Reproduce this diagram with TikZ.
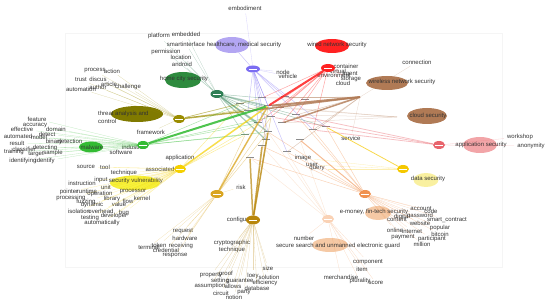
\documentclass[tikz,border=0pt]{standalone}
\usepackage{fontspec}
\setmainfont{Liberation Sans}
\usepackage{xcolor}
\usetikzlibrary{shapes.geometric}

\definecolor{healthc}{HTML}{B3A6F2}
\definecolor{healthhub}{HTML}{7B6CF2}
\definecolor{wiredc}{HTML}{FF2222}
\definecolor{homec}{HTML}{2E8B3E}
\definecolor{homehub}{HTML}{2F7F55}
\definecolor{threatc}{HTML}{807A00}
\definecolor{threathub}{HTML}{9A8C00}
\definecolor{malwarec}{HTML}{33BB33}
\definecolor{vulnc}{HTML}{F7F23C}
\definecolor{vulnhub}{HTML}{F5D000}
\definecolor{riskhub}{HTML}{D9A520}
\definecolor{confhub}{HTML}{B8860B}
\definecolor{brownc}{HTML}{B07A55}
\definecolor{appc}{HTML}{F2A5A8}
\definecolor{apphub}{HTML}{E8646C}
\definecolor{datac}{HTML}{F9F0A0}
\definecolor{datahub}{HTML}{F5C800}
\definecolor{finc}{HTML}{F5C9A5}
\definecolor{finhub}{HTML}{F0914F}
\definecolor{searchhub}{HTML}{FAD2B5}

\begin{document}
\begin{tikzpicture}[x=1pt,y=-1pt,
  word/.style={font=\fontsize{6}{7}\selectfont, text=black!80, inner sep=0pt},
  topic/.style={ellipse, fill=#1, minimum width=30pt, minimum height=14pt, inner sep=0pt},
  hub/.style={ellipse, fill=#1, minimum width=12pt, minimum height=8pt, inner sep=0pt,
    path picture={\draw[white, line width=0.5pt] ([xshift=-4pt]path picture bounding box.center) -- ([xshift=4pt]path picture bounding box.center);}},
  tinyterm/.style={rectangle, fill=black!45, minimum width=8pt, minimum height=1pt, inner sep=0pt},
  fan/.style={draw=#1, line width=0.3pt, opacity=0.3, shorten >=3pt},
  link/.style={draw=#1, line width=0.5pt, opacity=0.4},
  heavy/.style={draw=#1, line width=2pt, opacity=0.85}]
\useasboundingbox (0,0) rectangle (550,305);
\draw[black!4] (65,33) rectangle (502,267);

% topics
\node[topic=healthc, minimum width=34pt, minimum height=16pt] (health) at (232,45) {};
\node[topic=wiredc, minimum width=34pt] (wired) at (332,46) {};
\node[topic=homec, minimum width=36pt, minimum height=16pt] (home) at (183,80) {};
\node[topic=threatc, minimum width=52pt, minimum height=16pt] (threat) at (137,114) {};
\node[topic=malwarec, minimum width=24pt, minimum height=11pt] (malware) at (91,147) {};
\node[topic=vulnc, minimum width=50pt, minimum height=15pt] (vuln) at (135,183) {};
\node[topic=brownc, minimum width=42pt] (wireless) at (387,83) {};
\node[topic=brownc, minimum width=40pt, minimum height=16pt] (cloudsec) at (427,116) {};
\node[topic=appc, minimum width=34pt, minimum height=16pt] (appsec) at (480,145) {};
\node[topic=datac, minimum width=25pt] (datasec) at (426,180) {};
\node[topic=finc, minimum width=26pt] (fintech) at (378,213) {};
\node[topic=finc, minimum width=36pt] (search) at (330,245) {};

% centre terms
\node[tinyterm] (c1) at (262,98) {};
\node[tinyterm] (c2) at (268,106) {};
\node[tinyterm] (c3) at (248,111) {};
\node[tinyterm] (c4) at (271,117) {};
\node[tinyterm] (c5) at (258,123) {};
\node[tinyterm] (c6) at (268,132) {};
\node[tinyterm] (c7) at (282,123) {};
\node[tinyterm] (c8) at (296,115) {};
\node[tinyterm] (c9) at (313,130) {};
\node[tinyterm] (c10) at (326,127) {};
\node[tinyterm] (c11) at (262,146) {};
\node[tinyterm] (c12) at (266,140) {};
\node[tinyterm] (c13) at (287,152) {};
\node[tinyterm] (c14) at (250,158) {};
\node[tinyterm] (c15) at (240,104) {};
\node[tinyterm] (c16) at (285,97) {};
\node[tinyterm] (c17) at (300,140) {};
\node[tinyterm] (c18) at (305,100) {};
\node[tinyterm] (c19) at (245,135) {};
\node[tinyterm] (c20) at (280,108) {};

\coordinate (hwireless) at (360,97);
\coordinate (hcloud) at (397,117);

% words
\node[word] (embodiment) at (245,8) {embodiment};
\node[word] (platform) at (159,36) {platform};
\node[word] (embedded) at (186,34) {embedded};
\node[word] (smartinterface) at (186,44) {smartinterface};
\node[word] (permission) at (166,52) {permission};
\node[word] (location) at (181,57) {location};
\node[word] (android) at (182,64) {android};
\node[word] (node) at (283,72) {node};
\node[word] (vehicle) at (288,76) {vehicle};
\node[word] (container) at (346,66) {container};
\node[word] (virtual) at (338,71) {virtual};
\node[word] (environment) at (334,75) {environment};
\node[word] (agent) at (350,74) {agent};
\node[word] (storage) at (351,79) {storage};
\node[word] (cloud) at (343,83) {cloud};
\node[word] (connection) at (417,62) {connection};
\node[word] (service) at (351,138) {service};
\node[word] (workshop) at (520,137) {workshop};
\node[word] (anonymity) at (531,146) {anonymity};
\node[word] (image) at (303,158) {image};
\node[word] (user) at (312,165) {user};
\node[word] (query) at (317,169) {query};

\node[word] (process) at (95,71) {process};
\node[word] (action) at (112,71) {action};
\node[word] (discus) at (98,79) {discus};
\node[word] (trust) at (81,80) {trust};
\node[word] (automation) at (81,89) {automation};
\node[word] (author) at (98,87) {author};
\node[word] (article) at (109,84) {article};
\node[word] (challenge) at (128,87) {challenge};
\node[word] (framework) at (151,132) {framework};

\node[word] (feature) at (37,119) {feature};
\node[word] (accuracy) at (35,126) {accuracy};
\node[word] (effective) at (22,129) {effective};
\node[word] (domain) at (56,129) {domain};
\node[word] (detect) at (47,134) {detect};
\node[word] (automated) at (18,136) {automated};
\node[word] (model) at (39,137) {model};
\node[word] (result) at (17,143) {result};
\node[word] (binary) at (54,142) {binary};
\node[word] (detection) at (70,141) {detection};
\node[word] (classifier) at (24,149) {classifier};
\node[word] (detecting) at (45,148) {detecting};
\node[word] (training) at (14,152) {training};
\node[word] (target) at (36,154) {target};
\node[word] (sample) at (53,153) {sample};
\node[word] (identifying) at (23,161) {identifying};
\node[word] (identify) at (45,161) {identify};
\node[word] (industrial) at (134,147) {industrial};
\node[word] (software) at (121,152) {software};

\node[word] (application) at (180,158) {application};
\node[word] (associated) at (160,169) {associated};
\node[word] (source) at (86,167) {source};
\node[word] (tool) at (105,167) {tool};
\node[word] (technique) at (124,173) {technique};
\node[word] (instruction) at (82,183) {instruction};
\node[word] (input) at (101,180) {input};
\node[word] (unit) at (106,187) {unit};
\node[word] (pointer) at (69,192) {pointer};
\node[word] (runtime) at (87,191) {runtime};
\node[word] (operation) at (100,194) {operation};
\node[word] (processor) at (133,192) {processor};
\node[word] (processing) at (71,198) {processing};
\node[word] (fuzzing) at (86,202) {fuzzing};
\node[word] (library) at (112,199) {library};
\node[word] (flow) at (128,201) {flow};
\node[word] (kernel) at (142,198) {kernel};
\node[word] (dynamic) at (92,205) {dynamic};
\node[word] (value) at (119,204) {value};
\node[word] (isolation) at (79,211) {isolation};
\node[word] (overhead) at (101,211) {overhead};
\node[word] (bug) at (124,213) {bug};
\node[word] (testing) at (90,218) {testing};
\node[word] (developer) at (114,216) {developer};
\node[word] (automatically) at (102,223) {automatically};

\node[word] (risk) at (241,187) {risk};
\node[word] (request) at (183,231) {request};
\node[word] (hardware) at (185,238) {hardware};
\node[word] (terminal) at (149,247) {terminal};
\node[word] (token) at (159,245) {token};
\node[word] (receiving) at (181,246) {receiving};
\node[word] (credential) at (166,250) {credential};
\node[word] (response) at (175,256) {response};

\node[word] (configured) at (241,220) {configured};
\node[word, align=center] (crypto) at (232,246.5) {cryptographic\\technique};
\node[word] (size) at (268,268) {size};
\node[word] (solution) at (269,277) {solution};
\node[word] (loey) at (253,276) {loey};
\node[word] (property) at (211,275) {property};
\node[word] (proof) at (226,274) {proof};
\node[word] (setting) at (220,281) {setting};
\node[word] (guarantee) at (240,281) {guarantee};
\node[word] (efficiency) at (265,283) {efficiency};
\node[word] (assumption) at (210,286) {assumption};
\node[word] (allows) at (233,286) {allows};
\node[word] (database) at (257,288) {database};
\node[word] (party) at (244,292) {party};
\node[word] (circuit) at (221,293) {circuit};
\node[word] (notion) at (234,297) {notion};

\node[word] (account) at (421,209) {account};
\node[word] (code) at (431,211) {code};
\node[word] (digital) at (402,217) {digital};
\node[word] (password) at (420,216) {password};
\node[word] (content) at (397,220) {content};
\node[word] (website) at (420,223) {website};
\node[word] (smartcontract) at (447,220) {smart\_contract};
\node[word] (online) at (395,230) {online};
\node[word] (internet) at (412,231) {internet};
\node[word] (popular) at (440,228) {popular};
\node[word] (bitcoin) at (440,234) {bitcoin};
\node[word] (payment) at (403,237) {payment};
\node[word] (participant) at (432,239) {participant};
\node[word] (million) at (422,244) {million};

\node[word] (number) at (304,238) {number};
\node[word] (component) at (368,262) {component};
\node[word] (item) at (362,269) {item};
\node[word] (merchandise) at (341,277) {merchandise};
\node[word] (plurality) at (360,281) {plurality};
\node[word] (score) at (376,283) {score};

% topic labels
\node[word] (healthlbl) at (244,45) {healthcare, medical security};
\node[word] (wiredlbl) at (337,45) {wired network security};
\node[word] (homelbl) at (184,79) {home city security};
\node[word, align=left, anchor=west, font=\fontsize{6}{8.5}\selectfont] (threatlbl) at (98,117.5) {threat analysis and\\control};
\node[word] (malwarelbl) at (92,147) {malware};
\node[word] (vulnlbl) at (136,181) {security vulnerability};
\node[word] (wirelesslbl) at (402,82) {wireless network security};
\node[word] (cloudlbl) at (428,116) {cloud security};
\node[word] (applbl) at (481,145) {application security};
\node[word] (datalbl) at (428,179) {data security};
\node[word] (finlbl) at (374,212) {e-money, fin-tech security};
\node[word] (searchlbl) at (338,246) {secure search and unmanned electronic guard};

% hubs
\node[hub=healthhub, minimum width=14pt, minimum height=7pt] (hhealth) at (253,69) {};
\node[hub=wiredc, minimum width=14pt] (hwired) at (328,68) {};
\node[hub=homehub, minimum width=13pt] (hhome) at (217,94) {};
\node[hub=threathub] (hthreat) at (179,119) {};
\node[hub=malwarec] (hmalware) at (143,145) {};
\node[hub=vulnhub] (hvuln) at (180,169) {};
\node[hub=riskhub, minimum width=13pt] (hrisk) at (217,194) {};
\node[hub=confhub, minimum width=14pt, minimum height=9pt] (hconf) at (253,220) {};
\node[hub=apphub] (happ) at (439,145) {};
\node[hub=datahub] (hdata) at (403,169) {};
\node[hub=finhub] (hfin) at (365,194) {};
\node[hub=searchhub] (hsearch) at (328,219) {};

% fans
\foreach \w in {platform,embedded,smartinterface,permission,location,android}
  \draw[fan=homehub] (hhome) -- (\w);
\foreach \w in {embodiment,node,vehicle}
  \draw[fan=healthhub] (hhealth) -- (\w);
\foreach \w in {container,virtual,environment,agent,storage,cloud}
  \draw[fan=wiredc] (hwired) -- (\w);
\foreach \w in {process,action,discus,trust,automation,author,article,challenge,framework}
  \draw[fan=threathub] (hthreat) -- (\w);
\foreach \w in {feature,accuracy,effective,domain,detect,automated,model,result,binary,detection,classifier,detecting,training,target,sample,identifying,identify,industrial,software}
  \draw[fan=malwarec] (hmalware) -- (\w);
\foreach \w in {application,associated,source,tool,technique,instruction,input,unit,pointer,runtime,operation,processor,processing,fuzzing,library,flow,kernel,dynamic,value,isolation,overhead,bug,testing,developer,automatically}
  \draw[fan=vulnhub] (hvuln) -- (\w);
\foreach \w in {risk,request,hardware,terminal,token,receiving,credential,response}
  \draw[fan=riskhub] (hrisk) -- (\w);
\foreach \w in {crypto,size,solution,loey,property,proof,setting,guarantee,efficiency,assumption,allows,database,party,circuit,notion}
  \draw[fan=confhub] (hconf) -- (\w);
\foreach \w in {connection,service}
  \draw[fan=brownc] (hwireless) -- (\w);
\foreach \w in {workshop,anonymity}
  \draw[fan=apphub] (happ) -- (\w);
\foreach \w in {image,user,query}
  \draw[fan=datahub] (hdata) -- (\w);
\foreach \w in {account,code,digital,password,content,website,smartcontract,online,internet,popular,bitcoin,payment,participant,million}
  \draw[fan=finhub] (hfin) -- (\w);
\foreach \w in {number,component,item,merchandise,plurality,score}
  \draw[fan=finhub] (hsearch) -- (\w);

% links to the centre
\draw[link=healthhub] (hhealth) -- (health);
\foreach \c in {c1,c2,c3,c5,c6,c12,c13,c9,c10,c16}
  \draw[link=healthhub] (hhealth) -- (\c);
\foreach \c in {c1,c4,c7,c8,c16,c20,c9,c5}
  \draw[link=wiredc] (hwired) -- (\c);
\foreach \c in {c2,c5,c6,c12}
  \draw[link=homehub, line width=1.2pt] (hhome) -- (\c);
\foreach \c in {c1,c3,c4,c19,c10,c8}
  \draw[link=homehub] (hhome) -- (\c);
\draw[link=threathub, line width=1.5pt, opacity=0.7] (hthreat) -- (c3);
\foreach \c in {c2,c15,c1}
  \draw[link=threathub] (hthreat) -- (\c);
\foreach \c in {c3,c5,c6,c19,c15,c4}
  \draw[link=malwarec] (hmalware) -- (\c);
\draw[link=vulnhub, line width=1.5pt, opacity=0.7] (hvuln) -- (c2);
\foreach \c in {c5,c15,c19}
  \draw[link=vulnhub] (hvuln) -- (\c);
\draw[link=riskhub, line width=1.5pt, opacity=0.7] (hrisk) -- (c2);
\foreach \c in {c4,c5,c19,c6}
  \draw[link=riskhub] (hrisk) -- (\c);
\foreach \c in {c6,c11,c14}
  \draw[link=confhub, line width=1.5pt, opacity=0.7] (hconf) -- (\c);
\foreach \c in {c2,c4,c12}
  \draw[link=confhub] (hconf) -- (\c);
\foreach \c in {c7,c3}
  \draw[link=brownc, line width=1.5pt, opacity=0.8] (hwireless) -- (\c);
\foreach \c in {c9,c13,c1,c16,c8}
  \draw[link=brownc] (hwireless) -- (\c);
\foreach \c in {c2,c8,c20,c7}
  \draw[link=brownc, opacity=0.25] (hcloud) -- (\c);
\foreach \c in {c8,c9,c4}
  \draw[link=apphub, line width=0.8pt] (happ) -- (\c);
\draw[link=datahub, line width=0.8pt, opacity=0.7] (hdata) -- (c10);
\draw[link=finhub, line width=1pt, opacity=0.6] (hfin) -- (c17);
\foreach \c in {c8,c9,c10,c11,c13,c14,c6}
  \draw[link=finhub] (hfin) -- (\c);
\foreach \c in {c11,c13,c17,c6,c14}
  \draw[link=finc] (hsearch) -- (\c);
\draw[heavy=wiredc] (hwired) -- (c2);
\draw[heavy=malwarec] (hmalware) -- (c2);
\draw[heavy=brownc] (hwireless) -- (c2);
\end{tikzpicture}
\end{document}
